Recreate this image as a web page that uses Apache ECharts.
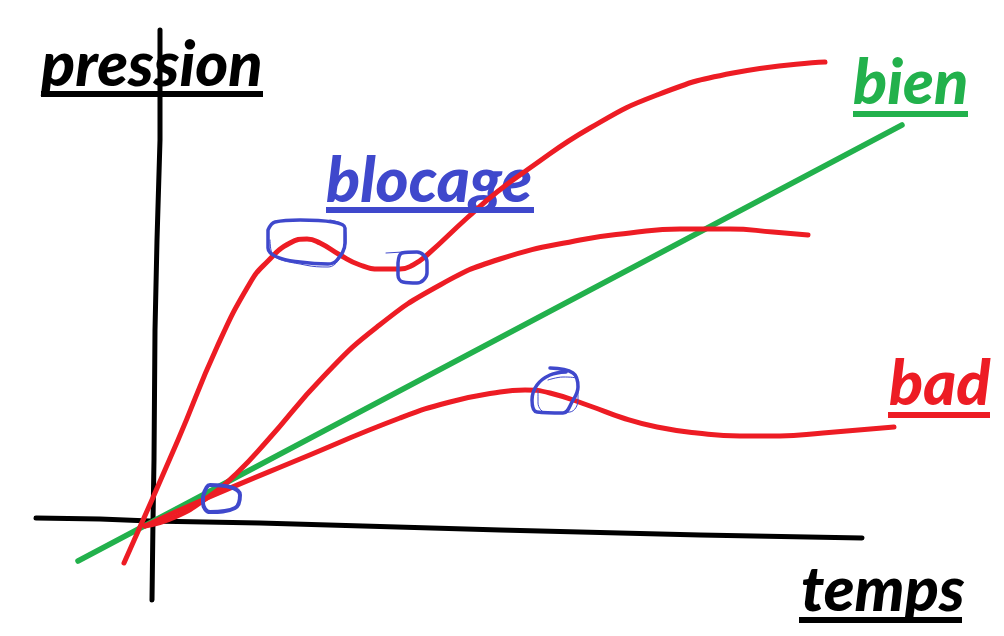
<!DOCTYPE html>
<html>
<head>
<meta charset="utf-8">
<title>pression / temps</title>
<style>
    html, body { margin: 0; padding: 0; background: #fff; }
    #chart { width: 1004px; height: 636px; }
</style>
<script src="https://cdn.jsdelivr.net/npm/echarts@6/dist/echarts.min.js"></script>
</head>
<body>
<div id="chart"></div>
<script>
// axes du croquis
var axisY = [[160, 30], [160, 140], [157, 240], [155, 330], [154, 460], [153, 520], [152, 600]];
var axisX = [[36, 518], [100, 519], [150, 521], [260, 523], [500, 530], [700, 535], [862, 538]];

// courbes
var bien = [[78, 561], [902, 125]];
var badTop = [[124, 563], [178, 440], [217, 347], [250, 283], [267, 262], [290, 243], [307, 239], [320, 243], [340, 255], [360, 265], [380, 269], [400, 269], [413, 265], [427, 255], [467, 218], [497, 192], [527, 170], [590, 128], [657, 95], [733, 73], [825, 62]];
var badMiddle = [[145, 526], [175, 517], [207, 498], [237, 473], [267, 441], [323, 377], [377, 327], [440, 285], [500, 259], [580, 240], [630, 233], [680, 229], [730, 229], [773, 232], [808, 235]];
var badBottom = [[145, 526], [207, 498], [300, 459], [400, 418], [450, 402], [500, 392], [525, 390], [550, 393], [590, 406], [623, 418], [657, 427], [697, 433], [740, 436], [780, 436], [823, 433], [894, 427]];

// blocages entourés en bleu
var circleTop = [[268, 230], [275, 222], [300, 220], [333, 222], [345, 228], [345, 243], [337, 260], [328, 264], [300, 262], [277, 257], [268, 248], [268, 230]];
var circleTopThin = [[270, 240], [273, 255], [305, 265], [328, 267], [340, 258], [346, 240], [344, 226], [330, 220]];
var circleMiddle = [[398, 263], [402, 253], [417, 252], [427, 262], [427, 273], [417, 283], [403, 282], [398, 275], [398, 263]];
var circleTick = [[386, 253], [403, 252]];
var circleRight = [[550, 368], [573, 373], [578, 387], [572, 402], [563, 413], [537, 412], [532, 400], [537, 385], [550, 375], [566, 372]];
var circleRightThin = [[538, 390], [538, 403], [547, 413], [570, 412], [578, 400], [578, 380], [563, 377], [548, 380]];
var circleLow = [[203, 497], [210, 485], [230, 487], [240, 495], [235, 508], [210, 512], [203, 503], [203, 497]];

// textes et soulignements
var labelNames = ['pression', 'blocage', 'bien', 'bad', 'temps'];
var labelPoints = [[41, 66], [326, 182], [853, 84], [889, 385], [801, 591]];
var underlines = [
    [[41, 94], [263, 94]],
    [[326, 210], [534, 210]],
    [[853, 114], [968, 114]],
    [[888, 415], [990, 415]],
    [[799, 620], [962, 620]]
];

var RED = '#ED1C24', GREEN = '#22B14C', BLUE = '#3F48CC', BLACK = '#000000';
var labelColors = [BLACK, BLUE, GREEN, RED, BLACK];

function sketchLine(name, data, color, width, smooth) {
    return {
        name: name,
        type: 'line',
        data: data,
        smooth: smooth,
        showSymbol: false,
        symbol: 'none',
        clip: false,
        silent: true,
        lineStyle: { color: color, width: width, cap: 'round', join: 'round' }
    };
}

var series = [
    sketchLine('axe pression', axisY, BLACK, 5, false),
    sketchLine('axe temps', axisX, BLACK, 5, false),
    sketchLine('bien', bien, GREEN, 5.5, false),
    sketchLine('courbe haute', badTop, RED, 5, 0.5),
    sketchLine('courbe milieu', badMiddle, RED, 5, 0.5),
    sketchLine('courbe basse', badBottom, RED, 5, 0.5),
    sketchLine('blocage 1', circleTop, BLUE, 3.5, 0.4),
    sketchLine('blocage 1 bis', circleTopThin, BLUE, 1, 0.4),
    sketchLine('blocage 2', circleMiddle, BLUE, 3.5, 0.4),
    sketchLine('blocage 2 trait', circleTick, BLUE, 1, false),
    sketchLine('blocage 3', circleRight, BLUE, 3.5, 0.4),
    sketchLine('blocage 3 bis', circleRightThin, BLUE, 1, 0.4),
    sketchLine('blocage 4', circleLow, BLUE, 4, 0.4)
];

underlines.forEach(function (line, i) {
    var s = sketchLine('souligne ' + labelNames[i], line, labelColors[i], 6, false);
    s.lineStyle.cap = 'butt';
    series.push(s);
});

series.push({
    type: 'scatter',
    symbolSize: 0,
    silent: true,
    itemStyle: { opacity: 1 },
    data: labelNames.map(function (name, i) {
        return {
            name: name,
            value: labelPoints[i],
            label: {
                show: true,
                position: 'inside',
                formatter: name,
                align: 'left',
                verticalAlign: 'middle',
                fontFamily: 'Lato',
                fontStyle: 'italic',
                fontWeight: 900,
                fontSize: 63,
                opacity: 1,
                color: labelColors[i]
            }
        };
    })
});

var chartDom = document.getElementById('chart');
var myChart = echarts.init(chartDom);

myChart.setOption({
    animation: false,
    backgroundColor: '#ffffff',
    grid: { left: 0, right: 0, top: 0, bottom: 0 },
    xAxis: { type: 'value', min: 0, max: 1004, show: false },
    yAxis: { type: 'value', min: 0, max: 636, inverse: true, show: false },
    series: series
});
</script>
</body>
</html>
